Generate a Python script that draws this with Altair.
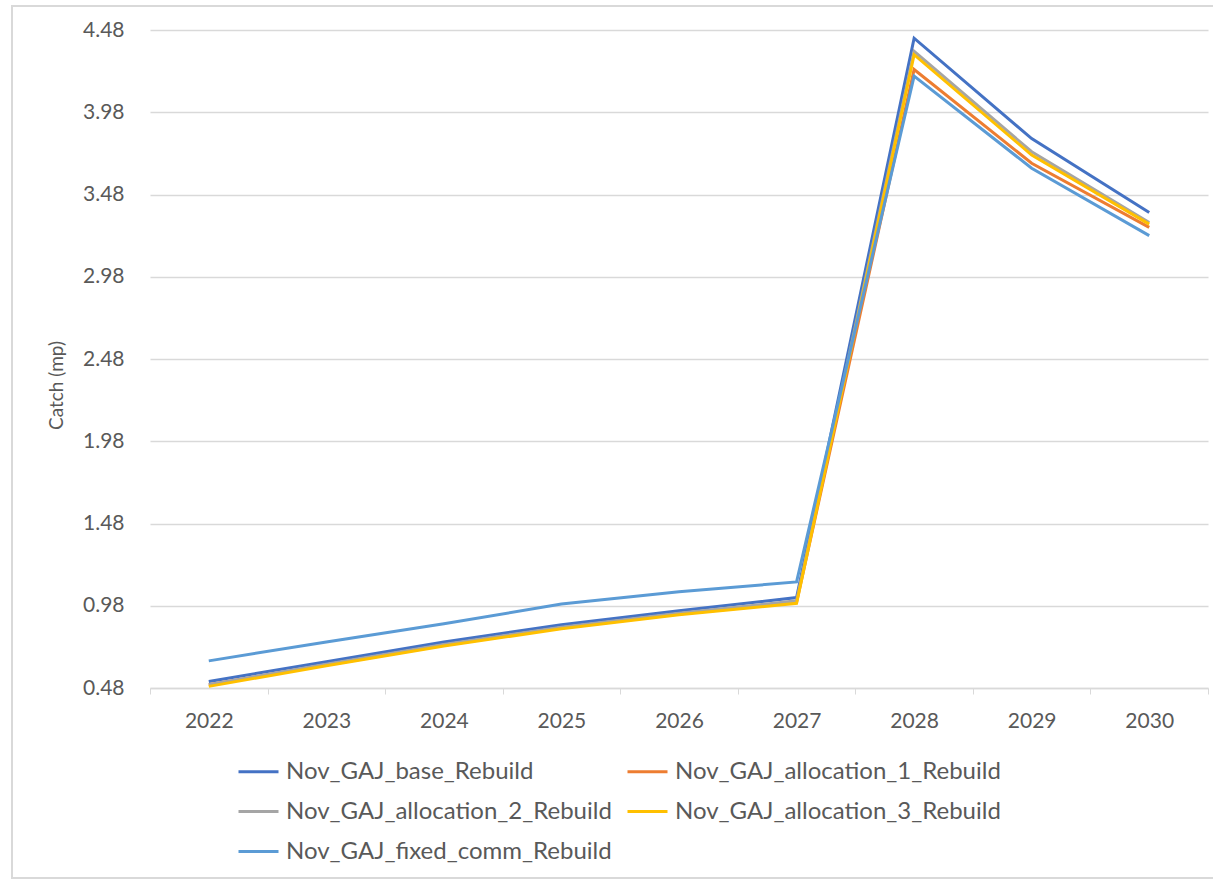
import altair as alt
import pandas as pd

years = ["2022", "2023", "2024", "2025", "2026", "2027", "2028", "2029", "2030"]

series_names = [
    "Nov_GAJ_base_Rebuild",
    "Nov_GAJ_allocation_1_Rebuild",
    "Nov_GAJ_allocation_2_Rebuild",
    "Nov_GAJ_allocation_3_Rebuild",
    "Nov_GAJ_fixed_comm_Rebuild",
]
series_colors = ["#4472C4", "#ED7D31", "#A5A5A5", "#FFC000", "#5B9BD5"]

base_rebuild = [0.52, 0.64, 0.76, 0.865, 0.95, 1.03, 4.43, 3.82, 3.37]
allocation_1 = [0.50, 0.62, 0.74, 0.845, 0.93, 1.00, 4.24, 3.67, 3.28]
allocation_2 = [0.50, 0.625, 0.745, 0.85, 0.935, 1.01, 4.35, 3.74, 3.31]
allocation_3 = [0.49, 0.615, 0.735, 0.84, 0.925, 0.995, 4.33, 3.72, 3.30]
fixed_comm = [0.645, 0.76, 0.87, 0.99, 1.065, 1.125, 4.20, 3.64, 3.23]

y_ticks = [0.48, 0.98, 1.48, 1.98, 2.48, 2.98, 3.48, 3.98, 4.48]

rows = []
for order, (name, vals) in enumerate(
    zip(series_names, [base_rebuild, allocation_1, allocation_2, allocation_3, fixed_comm])
):
    for yr, v in zip(years, vals):
        rows.append({"Year": yr, "Catch": v, "Series": name, "order": order})
df = pd.DataFrame(rows)

FONT = "Lato"
TEXT = "#595959"
W, H = 1058, 658

lines = alt.Chart(df).mark_line(strokeWidth=3, clip=False).encode(
    x=alt.X(
        "Year:O",
        sort=years,
        scale=alt.Scale(type="band", paddingInner=0, paddingOuter=0),
        axis=alt.Axis(
            title=None,
            labelAngle=0,
            tickBand="extent",
            domainColor="#D9D9D9",
            domainWidth=1.5,
            tickColor="#D9D9D9",
            tickSize=6,
            labelPadding=16,
            labelFont=FONT,
            labelFontSize=21,
            labelColor=TEXT,
            grid=False,
        ),
    ),
    y=alt.Y(
        "Catch:Q",
        scale=alt.Scale(domain=[0.48, 4.48], nice=False, zero=False),
        axis=alt.Axis(
            title="Catch (mp)",
            values=y_ticks,
            format=".2f",
            domain=False,
            ticks=False,
            labelPadding=26,
            labelFont=FONT,
            labelFontSize=21,
            labelColor=TEXT,
            gridColor="#D9D9D9",
            gridWidth=1.5,
            titleFont=FONT,
            titleFontSize=19,
            titleFontWeight="normal",
            titleColor=TEXT,
            titleX=-94,
            titleY=355,
            titleAngle=270,
            titleAlign="center",
            titleBaseline="middle",
        ),
    ),
    color=alt.Color(
        "Series:N",
        sort=series_names,
        scale=alt.Scale(domain=series_names, range=series_colors),
        legend=alt.Legend(
            title=None,
            orient="none",
            direction="horizontal",
            legendX=87,
            legendY=720,
            columns=2,
            symbolType="stroke",
            symbolSize=1600,
            symbolStrokeWidth=3,
            labelFont=FONT,
            labelFontSize=24,
            labelColor=TEXT,
            labelOffset=6,
            rowPadding=6,
            columnPadding=9,
            labelLimit=600,
        ),
    ),
    order=alt.Order("order:Q"),
    detail="Series:N",
)

# outer chart-area frame
frame = alt.Chart(pd.DataFrame({"k": [0]})).mark_rect(
    fill=None, stroke="#D9D9D9", strokeWidth=2, clip=False
).encode(
    x=alt.value(-138),
    x2=alt.value(1070),
    y=alt.value(-24),
    y2=alt.value(848),
)

chart = (
    alt.layer(frame, lines)
    .properties(
        width=W,
        height=H,
        padding={"left": 150, "top": 30, "right": 5, "bottom": 193},
        autosize=alt.AutoSizeParams(type="none"),
        background="white",
    )
    .configure_view(stroke=None)
)

chart.save("out.html", embed_options={"renderer": "svg", "actions": False})
